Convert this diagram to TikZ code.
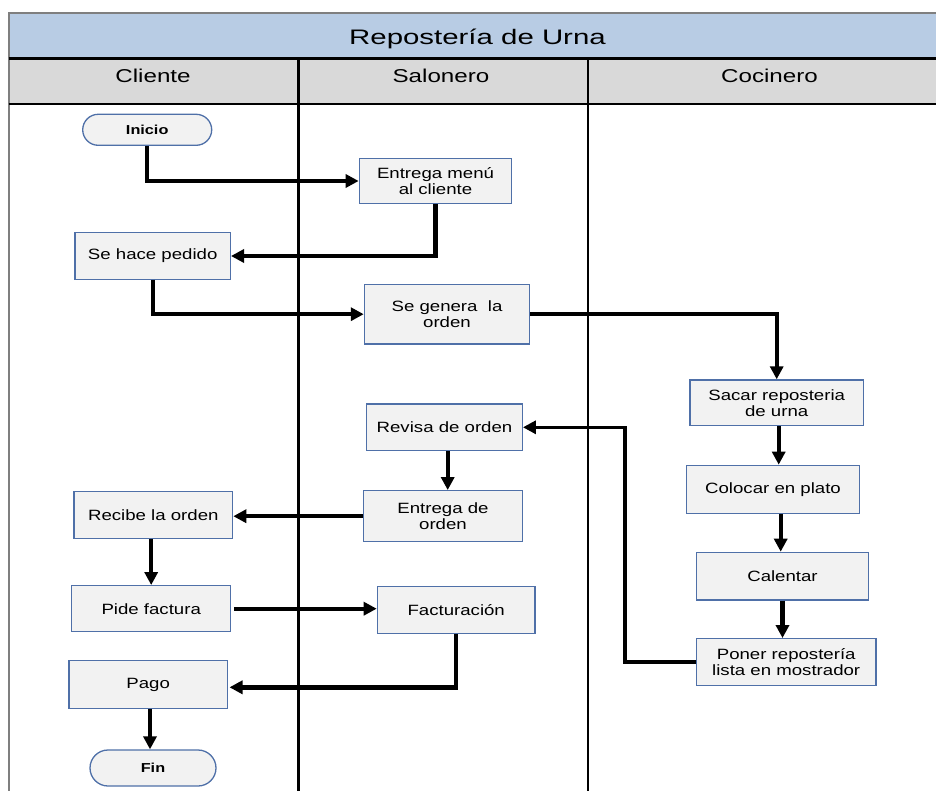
\documentclass[tikz,border=0pt]{standalone}
\usepackage{fontspec}
\setmainfont{Liberation Sans}
\newfontfamily\titlefont{Liberation Sans}[FakeStretch=1.4]
\newfontfamily\lanefont{Liberation Sans}[FakeStretch=1.3]
\newfontfamily\boxfont{Liberation Sans}[FakeStretch=1.25]
\usetikzlibrary{arrows.meta}
\definecolor{hdrblue}{HTML}{B8CCE4}
\definecolor{lanegray}{HTML}{D9D9D9}
\definecolor{boxfill}{HTML}{F2F2F2}
\definecolor{boxedge}{HTML}{4F70A8}
\definecolor{rulegray}{HTML}{7F7F7F}

\begin{document}
\begin{tikzpicture}[x=1pt,y=-1pt,
  wh/.style 2 args={minimum width=#1pt, minimum height=#2pt},
  stepbox/.style={draw=boxedge, line width=1.3pt, fill=boxfill, inner sep=0pt,
    align=center, font=\boxfont\fontsize{14.9}{16}\selectfont},
  pill/.style={stepbox, font=\boxfont\bfseries\fontsize{13}{15}\selectfont},
  lanelabel/.style={anchor=base, font=\lanefont\fontsize{18.6}{21}\selectfont},
  flow/.style={line width=4.4pt, -{Triangle[length=13pt,width=13pt]}},
  thinflow/.style={line width=3.6pt, -{Triangle[length=13pt,width=13pt]}},
]
\useasboundingbox (0,0) rectangle (936,791);

% pool header and lane headers
\fill[hdrblue] (8.7,13) rectangle (936,58.5);
\fill[lanegray] (8.7,58.5) rectangle (936,104);
\draw[rulegray, line width=2pt] (936,13) -- (8.7,13) -- (8.7,791);
\draw[line width=2.2pt] (8.7,58.5) -- (936,58.5);
\draw[line width=2.6pt] (8.7,104) -- (936,104);
\draw[line width=3.2pt] (298.3,58.5) -- (298.3,791);
\draw[line width=2.6pt] (588,58.5) -- (588,791);

\node[anchor=base, font=\titlefont\fontsize{21}{24}\selectfont] (title) at (477.5,45) {Repostería de Urna};
\node[lanelabel] (lcliente) at (153,83) {Cliente};
\node[lanelabel] (lsalonero) at (441,83) {Salonero};
\node[lanelabel] (lcocinero) at (769.5,83) {Cocinero};

% activities
\node[pill, wh={129}{31}, rounded corners=15.5pt] (inicio) at (147.2,129.8) {Inicio};
\node[stepbox, wh={152.4}{45.4}] (entregamenu) at (435.5,181) {Entrega menú\\al cliente};
\node[stepbox, wh={155.3}{46.6}] (pedido) at (152.7,256) {Se hace pedido};
\node[stepbox, wh={165.2}{59.7}] (genera) at (447,314.2) {Se genera~ la\\orden};
\node[stepbox, wh={173.3}{45.7}] (sacar) at (776.7,402.8) {Sacar reposteria\\de urna};
\node[stepbox, wh={172.6}{48}] (colocar) at (773,489.3) {Colocar en plato};
\node[stepbox, wh={172.4}{47.7}] (calentar) at (782.5,576.2) {Calentar};
\node[stepbox, wh={179.7}{47}] (poner) at (786.2,662.2) {Poner repostería\\lista en mostrador};
\node[stepbox, wh={155.6}{46.7}] (revisa) at (444.5,427.3) {Revisa de orden};
\node[stepbox, wh={158.6}{51}] (entregaorden) at (443,516.2) {Entrega de\\orden};
\node[stepbox, wh={158.7}{46.6}] (recibe) at (153.3,515) {Recibe la orden};
\node[stepbox, wh={159}{46}] (pide) at (151.2,608.7) {Pide factura};
\node[stepbox, wh={157.7}{46.6}] (factura) at (456.2,610) {Facturación};
\node[stepbox, wh={158.3}{47.6}] (pago) at (148.2,684.5) {Pago};
\node[pill, wh={126}{36}, rounded corners=18pt] (fin) at (153,768) {Fin};

% flow connectors
\draw[flow] (inicio.south) |- (entregamenu.west);
\draw[flow] (entregamenu.south) |- (pedido.east);
\draw[flow] (pedido.south) |- (genera.west);
\draw[thinflow] (genera.east) -| (sacar.north);
\draw[flow] ([xshift=2pt]sacar.south) -- ([xshift=2pt]sacar.south |- colocar.north);
\draw[flow] ([xshift=7.7pt]colocar.south) -- ([xshift=7.7pt]colocar.south |- calentar.north);
\draw[flow] (calentar.south) -- (calentar.south |- poner.north);
\draw[thinflow] (poner.west) -- ++(-71,0) |- (revisa.east);
\draw[flow] ([xshift=3.2pt]revisa.south) -- ([xshift=3.2pt]revisa.south |- entregaorden.north);
\draw[flow] (entregaorden.west) -- (entregaorden.west -| recibe.east);
\draw[flow] (recibe.south -| pide.north) -- (pide.north);
\draw[flow] ([xshift=3pt]pide.east) -- (pide.east -| factura.west);
\draw[flow] (factura.south) |- ([xshift=1.5pt,yshift=-2.8pt]pago.east);
\draw[flow] ([xshift=1.8pt]pago.south) -- ([xshift=1.8pt]pago.south |- fin.north);
\end{tikzpicture}
\end{document}
